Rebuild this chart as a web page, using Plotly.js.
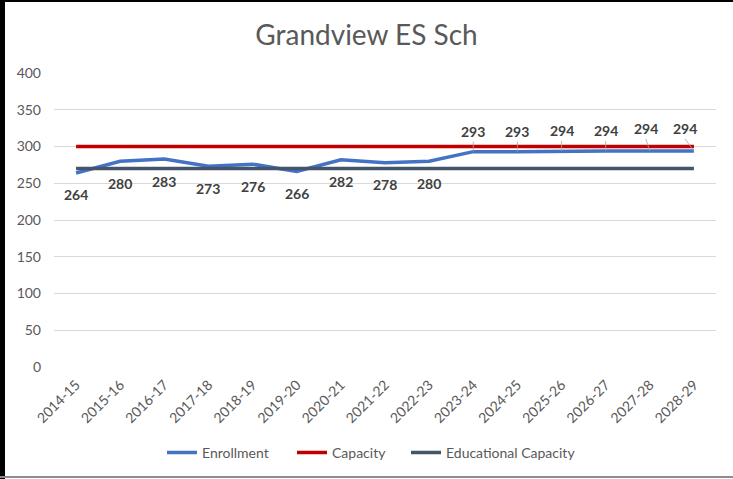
<!DOCTYPE html>
<html>
<head>
<meta charset="utf-8">
<script src="https://cdn.plot.ly/plotly-3.0.1.min.js"></script>
<style>
html,body{margin:0;padding:0;background:#fff;}
#wrap{position:relative;width:733px;height:479px;overflow:hidden;}
#chart{width:733px;height:479px;}
.b{position:absolute;pointer-events:none;}
</style>
</head>
<body>
<div id="wrap">
<div id="chart"></div>
<div class="b" style="left:0;top:0;width:5px;height:479px;background:#000;"></div>
<div class="b" style="left:0;top:0;width:733px;height:2px;background:#000;"></div>
<div class="b" style="left:0;top:476px;width:733px;height:2px;background:#8c8c8c;"></div>
</div>
<script>
const years = ["2014-15","2015-16","2016-17","2017-18","2018-19","2019-20","2020-21","2021-22","2022-23","2023-24","2024-25","2025-26","2026-27","2027-28","2028-29"];
const enrollment = [264,280,283,273,276,266,282,278,280,293,293,294,294,294,294];
const capacity = [300,300,300,300,300,300,300,300,300,300,300,300,300,300,300];
const educationalCapacity = [270,270,270,270,270,270,270,270,270,270,270,270,270,270,270];
const seriesNames = ["Enrollment", "Capacity", "Educational Capacity"];

const font = "Lato, 'Open Sans', sans-serif";

const traces = [
  {x: years, y: enrollment, name: seriesNames[0], legend: "legend", type: "scatter", mode: "lines", line: {color: "#4472C4", width: 3.5}},
  {x: years, y: capacity, name: seriesNames[1], legend: "legend2", type: "scatter", mode: "lines", line: {color: "#C00000", width: 3.5}},
  {x: years, y: educationalCapacity, name: seriesNames[2], legend: "legend3", type: "scatter", mode: "lines", line: {color: "#44546A", width: 3.5}}
];

const leaderDx = {13: -4, 14: -9};
const annotations = enrollment.map((v, i) => {
  const above = i >= 9;
  const a = {
    x: years[i], y: v, xref: "x", yref: "y", text: String(v),
    font: {family: font, size: 14, color: "#404040", weight: "bold"},
  };
  if (above) {
    a.showarrow = true; a.arrowhead = 0; a.arrowwidth = 0.8; a.arrowcolor = "#a6a6a6";
    a.ax = leaderDx[i] || 0; a.ay = (i >= 13 ? -12 : -10);
    a.standoff = 0; a.yanchor = "bottom";
  } else {
    a.showarrow = false; a.yshift = -22;
  }
  return a;
});

function leg(px) {
  return {orientation: "h", x: (px - 54) / 662, xanchor: "left", y: -0.292, yanchor: "middle",
          font: {family: font, size: 14, color: "#595959"}, bgcolor: "rgba(0,0,0,0)"};
}

const layout = {
  width: 733, height: 479,
  margin: {l: 54, r: 17, t: 73, b: 112, autoexpand: false},
  paper_bgcolor: "#fff", plot_bgcolor: "#fff",
  title: {text: "Grandview ES Sch", font: {family: font, size: 28, color: "#595959"}, x: 0.5, xanchor: "center", y: 0.926, yanchor: "middle"},
  font: {family: font, color: "#595959"},
  xaxis: {type: "category", range: [-0.5, 14.5], tickangle: -45, showgrid: false, zeroline: false, showline: false, ticks: "",
          tickfont: {family: font, size: 14, color: "#595959"}, ticklabelstandoff: 6},
  yaxis: {range: [0, 400], dtick: 50, showgrid: true, gridcolor: "#D9D9D9", gridwidth: 1, zeroline: false, showline: false, ticks: "",
          tickfont: {family: font, size: 14, color: "#595959"}, ticklabelstandoff: 12},
  showlegend: true,
  legend: leg(162),
  legend2: leg(292),
  legend3: leg(406),
  annotations: annotations
};

Plotly.newPlot("chart", traces, layout, {displayModeBar: false, staticPlot: true});
</script>
</body>
</html>
